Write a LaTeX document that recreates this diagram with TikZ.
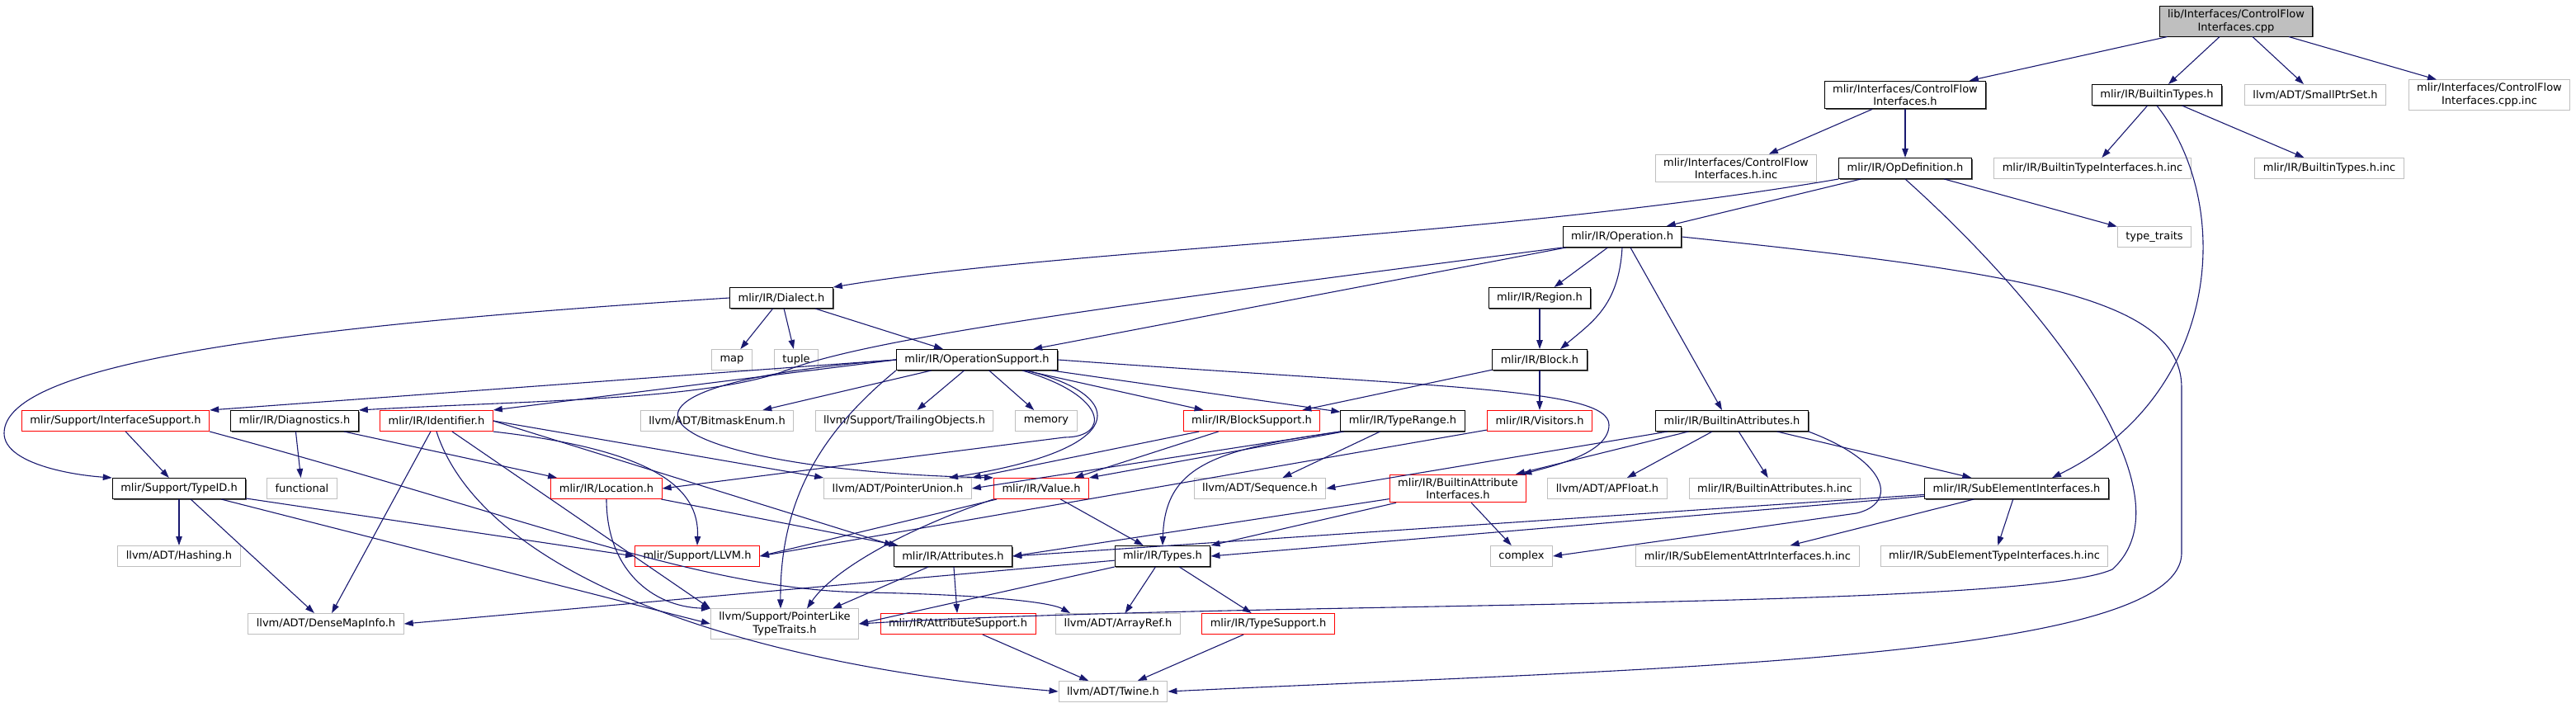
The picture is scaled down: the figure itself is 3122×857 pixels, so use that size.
\documentclass[tikz,border=0pt]{standalone}
\usepackage{fontspec}
\setmainfont{DejaVu Sans}
\usetikzlibrary{arrows.meta,shadows}
\definecolor{edgeblue}{HTML}{191970}
\definecolor{grey75}{HTML}{BFBFBF}
\begin{document}
\begin{tikzpicture}[x=1pt,y=-1pt,font=\fontsize{13}{15.5}\selectfont,
  >={Triangle[length=11pt,width=7.5pt]},
  nd/.style={align=center,inner xsep=10pt,inner ysep=4pt,minimum height=25pt,line width=1pt},
  bk/.style={nd,draw=black,fill=white,general shadow={fill=black!65,shadow xshift=1.3pt,shadow yshift=-1.3pt}},
  rd/.style={nd,draw=red,fill=white},
  gy/.style={nd,draw=grey75,fill=white},
  e/.style={->,draw=edgeblue,line width=1.1pt}]
  \useasboundingbox (0,0) rectangle (3122,857);
  % nodes, row by row
  \node[bk,fill=grey75](root) at (2710,26){lib/Interfaces/ControlFlow\\Interfaces.cpp};
  \node[bk](cfih) at (2309,115){mlir/Interfaces/ControlFlow\\Interfaces.h};
  \node[bk](bt) at (2614,115){mlir/IR/BuiltinTypes.h};
  \node[gy](sps) at (2806,115){llvm/ADT/SmallPtrSet.h};
  \node[gy](cfiinc) at (3017,115){mlir/Interfaces/ControlFlow\\Interfaces.cpp.inc};
  \node[gy](cfihinc) at (2104,204){mlir/Interfaces/ControlFlow\\Interfaces.h.inc};
  \node[bk](opdef) at (2309,204){mlir/IR/OpDefinition.h};
  \node[gy](btiinc) at (2536,204){mlir/IR/BuiltinTypeInterfaces.h.inc};
  \node[gy](btinc) at (2823,204){mlir/IR/BuiltinTypes.h.inc};
  \node[bk](op) at (1966,287){mlir/IR/Operation.h};
  \node[gy](tt) at (2611,287){type\_traits};
  \node[bk](dialect) at (947,361){mlir/IR/Dialect.h};
  \node[bk](region) at (1866,361){mlir/IR/Region.h};
  \node[gy](map) at (887,436){map};\node[gy](tuple) at (965,436){tuple};
  \node[bk](opsup) at (1184,436){mlir/IR/OperationSupport.h};
  \node[bk](block) at (1866,436){mlir/IR/Block.h};
  \node[rd](ifsup) at (140,510){mlir/Support/InterfaceSupport.h};
  \node[bk](diag) at (357,510){mlir/IR/Diagnostics.h};
  \node[rd](ident) at (529,510){mlir/IR/Identifier.h};
  \node[gy](bitmask) at (869,510){llvm/ADT/BitmaskEnum.h};
  \node[gy](trailing) at (1096,510){llvm/Support/TrailingObjects.h};
  \node[gy](memory) at (1268,510){memory};
  \node[rd](blocksup) at (1517,510){mlir/IR/BlockSupport.h};
  \node[bk](typerange) at (1700,510){mlir/IR/TypeRange.h};
  \node[rd](visitors) at (1866,510){mlir/IR/Visitors.h};
  \node[bk](battr) at (2099,510){mlir/IR/BuiltinAttributes.h};
  \node[bk](typeid) at (217,592){mlir/Support/TypeID.h};
  \node[gy](functional) at (366,592){functional};
  \node[rd](loc) at (735,592){mlir/IR/Location.h};
  \node[gy](punion) at (1088,592){llvm/ADT/PointerUnion.h};
  \node[rd](value) at (1262,592){mlir/IR/Value.h};
  \node[gy](sequence) at (1527,592){llvm/ADT/Sequence.h};
  \node[rd](baiface) at (1767,592){mlir/IR/BuiltinAttribute\\Interfaces.h};
  \node[gy](apfloat) at (1948,592){llvm/ADT/APFloat.h};
  \node[gy](battrinc) at (2151,592){mlir/IR/BuiltinAttributes.h.inc};
  \node[bk](subel) at (2444,592){mlir/IR/SubElementInterfaces.h};
  \node[gy](hashing) at (217,674){llvm/ADT/Hashing.h};
  \node[rd](llvm) at (845,674){mlir/Support/LLVM.h};
  \node[bk](attrs) at (1155,674){mlir/IR/Attributes.h};
  \node[bk](types) at (1409,674){mlir/IR/Types.h};
  \node[gy](complex) at (1844,674){complex};
  \node[gy](subattrinc) at (2118,674){mlir/IR/SubElementAttrInterfaces.h.inc};
  \node[gy](subtypeinc) at (2417,674){mlir/IR/SubElementTypeInterfaces.h.inc};
  \node[gy](densemap) at (395,756){llvm/ADT/DenseMapInfo.h};
  \node[gy](plt) at (951,756){llvm/Support/PointerLike\\TypeTraits.h};
  \node[rd](attrsup) at (1161,756){mlir/IR/AttributeSupport.h};
  \node[gy](arrayref) at (1355,756){llvm/ADT/ArrayRef.h};
  \node[rd](typesup) at (1537,756){mlir/IR/TypeSupport.h};
  \node[gy](twine) at (1349,838){llvm/ADT/Twine.h};
  % top part
  \draw[e](root)--(cfih);\draw[e](root)--(bt);\draw[e](root)--(sps);\draw[e](root)--(cfiinc);
  \draw[e](cfih)--(cfihinc);\draw[e](cfih)--(opdef);
  \draw[e](bt)--(btiinc);\draw[e](bt)--(btinc);
  \draw[e](bt.south) .. controls (2710,250) and (2690,480) .. ([xshift=43pt]subel.north);
  \draw[e](opdef)--(op);\draw[e](opdef)--(tt);
  \draw[e](opdef.south west) .. controls (1800,290) and (1300,300) .. (dialect.north east);
  \draw[e](opdef.south) .. controls (2480,370) and (2660,600) .. (2560,690) .. controls (2450,740) and (1500,728) .. (plt.east);
  \draw[e](op)--(region);\draw[e](region)--(block);\draw[e](op)--(opsup);
  \draw[e](op.south) .. controls (1962,370) and (1930,390) .. ([xshift=25pt]block.north);
  \draw[e]([xshift=10pt]op.south)--([xshift=-12pt]battr.north);
  \draw[e](op.south west) .. controls (1350,370) and (1050,410) .. (950,450) .. controls (850,485) and (650,485) .. (diag.north east);
  \draw[e](op.east) .. controls (2450,330) and (2644,360) .. (2644,470) -- (2644,670) .. controls (2644,800) and (2000,810) .. (twine.east);
  % Dialect.h and OperationSupport.h
  \draw[e](dialect)--(map);\draw[e](dialect)--(tuple);\draw[e](dialect)--(opsup);
  \draw[e](dialect.west) .. controls (350,395) and (5,440) .. (5,525) .. controls (5,560) and (80,575) .. (typeid.north west);
  \draw[e](block)--(blocksup);\draw[e](block)--(visitors);
  \draw[e](opsup.west)--(ifsup.north east);\draw[e](opsup.west)--(ident.north east);
  \draw[e](opsup)--(bitmask);\draw[e](opsup)--(trailing);\draw[e](opsup)--(memory);
  \draw[e](opsup)--(blocksup);\draw[e](opsup)--(typerange);
  \draw[e](opsup.east) .. controls (1750,470) and (1950,470) .. (1950,515) .. controls (1950,550) and (1880,565) .. ([xshift=-5pt]baiface.north east);
  \draw[e]([xshift=60pt]opsup.south) .. controls (1370,480) and (1370,545) .. ([xshift=62pt]punion.north);
  \draw[e]([xshift=55pt]opsup.south) .. controls (1345,480) and (1345,530) .. (1290,530) -- (loc.east);
  \draw[e](opsup.west) .. controls (650,470) and (800,570) .. (value.north west);
  \draw[e](opsup.south west) .. controls (1000,520) and (945,600) .. ([xshift=-5pt]plt.north);
  % third row
  \draw[e](ifsup)--(typeid);
  \draw[e](ifsup.south east) .. controls (650,630) and (850,715) .. (1050,718) .. controls (1170,720) and (1270,728) .. ([xshift=-58pt]arrayref.north);
  \draw[e](diag)--(functional);\draw[e](diag)--(loc);
  \draw[e](ident)--(densemap);\draw[e](ident)--(plt.north west);
  \draw[e](ident.south) .. controls (580,680) and (850,800) .. (twine.west);
  \draw[e](ident.south east) .. controls (790,545) and (848,590) .. (llvm.north);
  \draw[e](ident.east)--(punion.north west);\draw[e](ident.east)--(attrs.north west);
  \draw[e](typeid)--(hashing);\draw[e](typeid)--(densemap);
  \draw[e](typeid)--(llvm.west);\draw[e](typeid)--(plt.west);
  \draw[e](loc.south) .. controls (735,690) and (790,735) .. (plt.north west);
  \draw[e](loc)--(attrs);
  \draw[e](blocksup)--(value);\draw[e](blocksup)--(punion.north east);
  \draw[e](typerange)--(value.north east);\draw[e](typerange)--(sequence);
  \draw[e](typerange.south west)--(punion.east);
  \draw[e](typerange.south west) .. controls (1470,545) and (1412,565) .. (types.north);
  \draw[e](visitors)--(llvm.east);
  \draw[e](battr)--(sequence.east);\draw[e](battr)--(baiface);\draw[e](battr)--(apfloat);
  \draw[e](battr)--(battrinc);\draw[e](battr)--(subel);
  \draw[e](battr.south east) .. controls (2290,560) and (2300,610) .. (2250,622) -- (complex.east);
  % lower part
  \draw[e](value)--(types);\draw[e](value)--(llvm.east);
  \draw[e](value.south west) .. controls (1100,640) and (1010,690) .. ([xshift=27pt]plt.north);
  \draw[e](baiface)--(attrs.east);\draw[e](baiface)--(types.north east);\draw[e](baiface)--(complex);
  \draw[e](subel)--(attrs.east);\draw[e](subel)--(types.east);
  \draw[e](subel)--(subattrinc);\draw[e](subel)--(subtypeinc);
  \draw[e](attrs)--([xshift=58pt]plt.north);\draw[e](attrs)--(attrsup);
  \draw[e](types)--(densemap.east);\draw[e](types)--(plt.east);
  \draw[e](types)--(arrayref);\draw[e](types)--(typesup);
  \draw[e](attrsup)--(twine);\draw[e](typesup)--(twine);
\end{tikzpicture}
\end{document}
